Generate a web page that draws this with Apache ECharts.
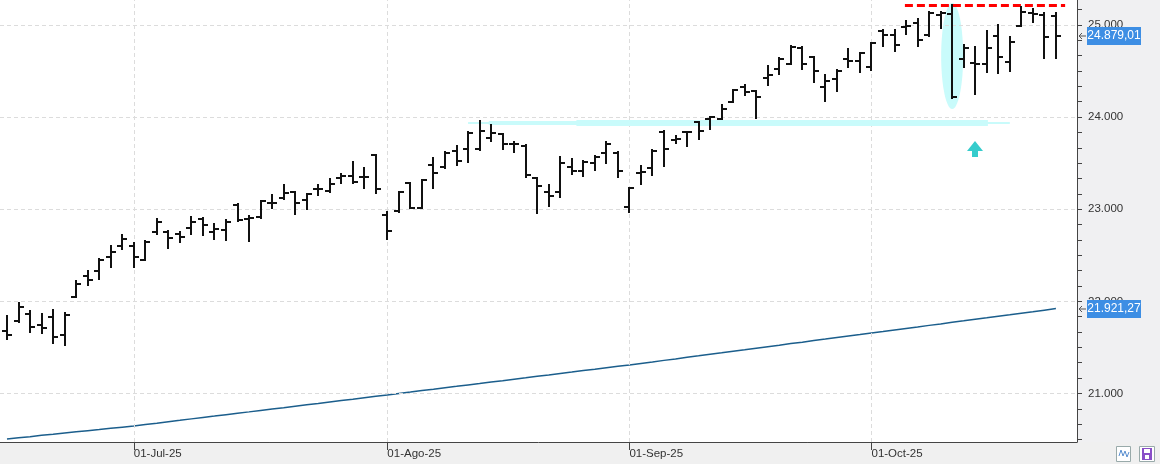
<!DOCTYPE html>
<html>
<head>
<meta charset="utf-8">
<script src="https://cdn.jsdelivr.net/npm/echarts@6/dist/echarts.min.js"></script>
<style>
html, body { margin: 0; padding: 0; background: #fff; }
#main { width: 1160px; height: 464px; }
</style>
</head>
<body>
<div id="main"></div>
<script>
// sesiones (dias habiles)
var dates = [
  '2025-06-13','2025-06-16','2025-06-17','2025-06-18','2025-06-20','2025-06-23','2025-06-24','2025-06-25','2025-06-26','2025-06-27','2025-06-30',
  '2025-07-01','2025-07-02','2025-07-03','2025-07-07','2025-07-08','2025-07-09','2025-07-10','2025-07-11','2025-07-14','2025-07-15','2025-07-16',
  '2025-07-17','2025-07-18','2025-07-21','2025-07-22','2025-07-23','2025-07-24','2025-07-25','2025-07-28','2025-07-29','2025-07-30','2025-07-31',
  '2025-08-01','2025-08-04','2025-08-05','2025-08-06','2025-08-07','2025-08-08','2025-08-11','2025-08-12','2025-08-13','2025-08-14','2025-08-15',
  '2025-08-18','2025-08-19','2025-08-20','2025-08-21','2025-08-22','2025-08-25','2025-08-26','2025-08-27','2025-08-28','2025-08-29',
  '2025-09-02','2025-09-03','2025-09-04','2025-09-05','2025-09-08','2025-09-09','2025-09-10','2025-09-11','2025-09-12','2025-09-15','2025-09-16',
  '2025-09-17','2025-09-18','2025-09-19','2025-09-22','2025-09-23','2025-09-24','2025-09-25','2025-09-26','2025-09-29','2025-09-30',
  '2025-10-01','2025-10-02','2025-10-03','2025-10-06','2025-10-07','2025-10-08','2025-10-09','2025-10-10','2025-10-13','2025-10-14','2025-10-15',
  '2025-10-16','2025-10-17','2025-10-20','2025-10-21','2025-10-22','2025-10-23'
];
var opens = [
  21675,21784,21863,21744,21827,21632,22051,22279,22326,22482,22601,
  22601,22449,22750,22750,22731,22793,22894,22750,22775,23046,22894,
  22919,23071,23119,23184,23100,23217,23201,23339,23364,23347,23589,
  22938,22984,23282,23014,23480,23455,23635,23651,23651,23770,23814,
  23708,23690,23336,23190,23190,23455,23418,23499,23607,23614,
  23021,23390,23445,23842,23755,23835,23944,23976,23983,24167,24330,
  24284,24422,24519,24577,24754,24649,24324,24411,24628,24609,
  24541,24938,24892,24982,25025,24892,25109,25119,24628,24591,24577,
  24884,24595,24989,25134,25109,25102
];
var highs = [
  21841,21979,21899,21863,21906,21871,22216,22326,22457,22598,22721,
  22637,22650,22891,22767,22756,22913,22902,22840,22880,23054,22927,
  23093,23155,23263,23190,23162,23260,23325,23383,23513,23445,23592,
  22973,23188,23286,23317,23553,23618,23687,23835,23961,23915,23818,
  23730,23694,23340,23263,23570,23542,23524,23578,23733,23618,
  23234,23470,23638,23853,23798,23842,23950,24005,24132,24294,24346,
  24287,24555,24639,24775,24757,24652,24457,24507,24736,24696,
  24808,24941,24946,25043,25065,25138,25145,25212,24783,24758,24935,
  25000,24873,25192,25170,25127,25127
];
var lows = [
  21592,21780,21671,21653,21545,21530,22048,22175,22246,22376,22565,
  22376,22445,22731,22583,22648,22728,22717,22677,22670,22872,22655,
  22908,23010,23115,22948,22999,23151,23184,23288,23282,23227,23173,
  22674,22973,23010,23008,23227,23445,23480,23516,23648,23744,23651,
  23625,23353,22956,23035,23136,23379,23364,23426,23505,23347,
  22973,23271,23372,23473,23722,23690,23763,23874,23976,24163,24237,
  23994,24346,24465,24573,24522,24385,24178,24287,24547,24493,
  24512,24775,24718,24902,24775,24884,24964,24211,24541,24248,24493,
  24476,24504,24985,25036,24645,24645
];
var closes = [
  21632,21936,21719,21714,21617,21855,22185,22232,22449,22539,22674,
  22478,22644,22862,22685,22696,22862,22829,22782,22858,22880,22905,
  23086,23068,23173,23071,23160,23214,23277,23364,23299,23345,23217,
  22764,23184,23014,23314,23390,23607,23524,23832,23849,23831,23708,
  23712,23372,23252,23144,23499,23418,23516,23564,23708,23415,
  23230,23408,23635,23654,23758,23840,23853,23998,24085,24290,24273,
  24215,24457,24628,24765,24577,24501,24395,24504,24609,24693,
  24801,24892,24783,24985,24837,25134,25134,24215,24747,24577,24747,
  24649,24812,25144,25119,24870,24879.01
];
// media movil (linea azul)
var ma200 = [
  20506,20519,20531,20545,20556,20570,20583,20596,20608,20621,20634,
  20647,20663,20677,20693,20708,20724,20739,20754,20770,20785,20800,
  20816,20831,20846,20862,20877,20892,20908,20923,20938,20954,20969,
  20984,21000,21015,21031,21046,21062,21077,21093,21108,21124,21139,
  21155,21170,21186,21201,21217,21232,21248,21263,21279,21294,
  21309,21326,21342,21359,21375,21392,21408,21425,21441,21458,21474,
  21491,21508,21524,21541,21557,21574,21590,21607,21624,21640,
  21657,21673,21690,21706,21722,21739,21755,21772,21788,21805,21821,
  21838,21854,21871,21887,21904,21921.27
];
var monthNames = { '07': 'Jul', '08': 'Ago', '09': 'Sep', '10': 'Oct' };
var yLabels = [21000, 22000, 23000, 24000, 25000];
// niveles dibujados a mano
var resistance = 25217;
var support = 23936;

function fmtNum(v, dec) {
  var s = v.toFixed(dec).split('.');
  var ent = s[0].replace(/\B(?=(\d{3})+(?!\d))/g, '.');
  return dec ? ent + ',' + s[1] : ent;
}

// primer dia de cada mes -> etiqueta del eje x
var tickIdx = [], tickText = {};
dates.forEach(function (d, i) {
  var m = d.substr(5, 2);
  if (monthNames[m] && (i === 0 || dates[i - 1].substr(5, 2) !== m)) {
    tickIdx.push(i);
    tickText[i] = '01-' + monthNames[m] + '-' + d.substr(2, 2);
  }
});

var yMin = 20473, yMax = 25271;
var minorTicks = [];
for (var k = Math.ceil(yMin * 6 / 1000); k <= Math.floor(yMax * 6 / 1000); k++) minorTicks.push(k * 1000 / 6);

var ohlc = dates.map(function (d, i) { return [i, opens[i], highs[i], lows[i], closes[i]]; });
var maData = ma200.map(function (v, i) { return [i, v]; });

var gridLines = [];
yLabels.forEach(function (v) {
  gridLines.push({ yAxis: v, lineStyle: { color: '#dcdcdc', width: 1, type: [4, 3] } });
});
tickIdx.forEach(function (i) {
  gridLines.push({ xAxis: i, lineStyle: { color: '#dcdcdc', width: 1, type: [4, 3] } });
});
// linea roja de maximos
gridLines.push([{ coord: [77.9, resistance], lineStyle: { color: '#ff0000', width: 3, type: [8, 4] } }, { coord: [91.8, resistance] }]);
// banda cian de soporte
gridLines.push([{ coord: [40.0, support], lineStyle: { color: '#c9fbfb', width: 2, type: 'solid' } }, { coord: [42.0, support] }]);
gridLines.push([{ coord: [41.8, support], lineStyle: { color: '#c9fbfb', width: 4, type: 'solid' } }, { coord: [49.5, support] }]);
gridLines.push([{ coord: [49.4, support], lineStyle: { color: '#c9fbfb', width: 6, type: 'solid' } }, { coord: [85.1, support] }]);
gridLines.push([{ coord: [85.0, support], lineStyle: { color: '#c9fbfb', width: 2, type: 'solid' } }, { coord: [87.0, support] }]);

var chart = echarts.init(document.getElementById('main'));
var option = {
  animation: false,
  backgroundColor: '#ffffff',
  textStyle: { fontFamily: '"Liberation Sans", Arial, sans-serif' },
  grid: { left: 0, top: 0, right: 83, bottom: 22, containLabel: false },
  xAxis: {
    type: 'value',
    min: -0.607,
    max: 92.83,
    axisLine: { show: true, onZero: false, lineStyle: { color: '#444', width: 1 } },
    axisTick: { show: true, customValues: tickIdx, length: 8, lineStyle: { color: '#444' } },
    axisLabel: {
      customValues: tickIdx,
      formatter: function (v) { return tickText[v] || ''; },
      align: 'left',
      margin: 6,
      color: '#333',
      fontSize: 11.5
    },
    splitLine: { show: false }
  },
  yAxis: {
    type: 'value',
    position: 'right',
    min: yMin,
    max: yMax,
    axisLine: { show: true, onZero: false, lineStyle: { color: '#444', width: 1 } },
    axisTick: { show: true, customValues: minorTicks, length: 5, lineStyle: { color: '#444' } },
    axisLabel: {
      customValues: yLabels,
      formatter: function (v) { return fmtNum(v, 0); },
      margin: 11,
      color: '#333',
      fontSize: 11.5
    },
    splitLine: { show: false }
  },
  series: [{
    name: 'MA',
    type: 'line',
    data: maData,
    showSymbol: false,
    z: 2,
    lineStyle: { color: '#1b5e8c', width: 1.5 },
    markLine: { silent: true, symbol: 'none', label: { show: false }, animation: false, data: gridLines }
  }, {
    name: 'OHLC',
    type: 'custom',
    z: 5,
    data: ohlc,
    encode: { x: 0, y: [1, 2, 3, 4] },
    renderItem: function (params, api) {
      var i = api.value(0);
      var h = api.coord([i, api.value(2)]), l = api.coord([i, api.value(3)]);
      var o = api.coord([i, api.value(1)]), c = api.coord([i, api.value(4)]);
      var x = Math.round(h[0]);
      var st = { stroke: '#111', lineWidth: 2 };
      return {
        type: 'group',
        children: [
          { type: 'line', shape: { x1: x, y1: Math.round(h[1]) - 1, x2: x, y2: Math.round(l[1]) + 1 }, style: st },
          { type: 'line', shape: { x1: x - 5, y1: Math.round(o[1]), x2: x, y2: Math.round(o[1]) }, style: st },
          { type: 'line', shape: { x1: x, y1: Math.round(c[1]), x2: x + 5, y2: Math.round(c[1]) }, style: st }
        ]
      };
    }
  }]
};
chart.setOption(option);

function px(i, v) { return chart.convertToPixel({ gridIndex: 0 }, [i, v]); }

function tag(value, dec) {
  var y = Math.round(chart.convertToPixel({ yAxisIndex: 0 }, value));
  return [
    { type: 'polyline', z: 100, shape: { points: [[1086, y], [1079, y]] }, style: { stroke: '#555', lineWidth: 1 } },
    { type: 'polyline', z: 100, shape: { points: [[1082, y - 3], [1079, y], [1082, y + 3]] }, style: { stroke: '#555', fill: null, lineWidth: 1 } },
    { type: 'rect', z: 100, shape: { x: 1087, y: y - 9, width: 54, height: 18 }, style: { fill: '#3d8ee4' } },
    { type: 'text', z: 101, x: 1114, y: y, style: { text: fmtNum(value, dec), fill: '#fff', font: '12px "Liberation Sans", Arial', align: 'center', verticalAlign: 'middle' } }
  ];
}

// elipse del dia 10-Oct y flecha
var eTop = px(82, 25239), eBot = px(82, 24088);
var aTop = px(84, 23741), aMid = px(84, 23632), aBot = px(84, 23567);
var ax = Math.round(aTop[0]);

var graphics = [
  { type: 'rect', z: -10, shape: { x: 1077, y: 0, width: 83, height: 464 }, style: { fill: '#f0f0f2' } },
  { type: 'rect', z: -10, shape: { x: 0, y: 442, width: 1160, height: 22 }, style: { fill: '#f0f0f0' } },
  { type: 'ellipse', z: 1, shape: { cx: eTop[0], cy: (eTop[1] + eBot[1]) / 2, rx: 11, ry: (eBot[1] - eTop[1]) / 2 }, style: { fill: '#c9fbfb' } },
  { type: 'polygon', z: 1, shape: { points: [[ax, aTop[1]], [ax + 8, aMid[1]], [ax + 3, aMid[1]], [ax + 3, aBot[1]], [ax - 3, aBot[1]], [ax - 3, aMid[1]], [ax - 8, aMid[1]]] }, style: { fill: '#36cccc' } },
  // iconos abajo a la derecha
  { type: 'rect', z: 10, shape: { x: 1116.5, y: 446.5, width: 14, height: 15 }, style: { fill: '#fff', stroke: '#9aa', lineWidth: 1 } },
  { type: 'polyline', z: 11, shape: { points: [[1119, 456], [1121, 450], [1123, 456], [1125, 451], [1127, 457], [1129, 452]] }, style: { stroke: '#5a8fd0', fill: null, lineWidth: 1 } },
  { type: 'rect', z: 10, shape: { x: 1139.5, y: 446.5, width: 15, height: 15 }, style: { fill: '#fff', stroke: '#9aa', lineWidth: 1 } },
  { type: 'rect', z: 11, shape: { x: 1142, y: 448, width: 10, height: 12 }, style: { fill: '#8a4fc8' } },
  { type: 'rect', z: 12, shape: { x: 1144, y: 449, width: 6, height: 4 }, style: { fill: '#fff' } },
  { type: 'rect', z: 12, shape: { x: 1145, y: 455, width: 4, height: 4 }, style: { fill: '#fff' } }
];
graphics = graphics.concat(tag(closes[closes.length - 1], 2), tag(ma200[ma200.length - 1], 2));
chart.setOption({ graphic: graphics });
</script>
</body>
</html>
